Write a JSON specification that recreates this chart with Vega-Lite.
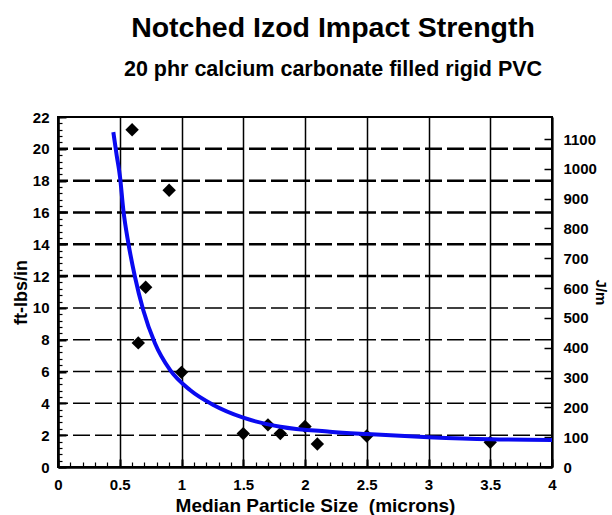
{
  "$schema": "https://vega.github.io/schema/vega-lite/v6.json",
  "width": 494,
  "height": 350,
  "autosize": "none",
  "padding": {"left": 58, "top": 117, "right": 60, "bottom": 48},
  "background": "white",
  "title": {
    "text": "Notched Izod Impact Strength",
    "subtitle": "20 phr calcium carbonate filled rigid PVC",
    "anchor": "middle",
    "frame": "group",
    "dx": 28,
    "offset": 30,
    "font": "Liberation Sans",
    "fontSize": 28.5,
    "fontWeight": "bold",
    "color": "black",
    "subtitleFont": "Liberation Sans",
    "subtitleFontSize": 21.5,
    "subtitleFontWeight": "bold",
    "subtitleColor": "black",
    "subtitlePadding": 16
  },
  "config": {"view": {"stroke": "black", "strokeWidth": 2}, "font": "Liberation Sans"},
  "datasets": {
    "points": [
      {"size": 0.6, "ft": 21.2},
      {"size": 0.9, "ft": 17.4},
      {"size": 0.71, "ft": 11.3},
      {"size": 0.65, "ft": 7.8},
      {"size": 1.0, "ft": 5.95},
      {"size": 1.5, "ft": 2.1},
      {"size": 1.7, "ft": 2.65},
      {"size": 1.8, "ft": 2.1},
      {"size": 2.0, "ft": 2.55},
      {"size": 2.1, "ft": 1.45},
      {"size": 2.5, "ft": 1.95},
      {"size": 3.5, "ft": 1.55}
    ],
    "curve": [
      {"size": 0.448, "ft": 21.05},
      {"size": 0.475, "ft": 19.6},
      {"size": 0.502, "ft": 18.25},
      {"size": 0.529, "ft": 16.15},
      {"size": 0.57, "ft": 14.06},
      {"size": 0.623, "ft": 11.96},
      {"size": 0.69, "ft": 9.87},
      {"size": 0.785, "ft": 7.78},
      {"size": 0.907, "ft": 6.1},
      {"size": 1.069, "ft": 4.84},
      {"size": 1.258, "ft": 3.9},
      {"size": 1.5, "ft": 3.1},
      {"size": 1.8, "ft": 2.53},
      {"size": 2.2, "ft": 2.22},
      {"size": 2.5, "ft": 2.07},
      {"size": 3.0, "ft": 1.87},
      {"size": 3.5, "ft": 1.74},
      {"size": 4.0, "ft": 1.7}
    ],
    "hgrid1": [{"ft": 2}, {"ft": 4}, {"ft": 6}, {"ft": 8}, {"ft": 10}],
    "hgrid2": [{"ft": 12}, {"ft": 14}, {"ft": 16}, {"ft": 18}, {"ft": 20}],
    "jm": [{"jm": 0}, {"jm": 1174}]
  },
  "layer": [
    {
      "data": {"name": "hgrid1"},
      "mark": {"type": "rule", "color": "black", "strokeWidth": 1.5, "strokeDash": [17, 5]},
      "encoding": {
        "y": {
          "field": "ft", "type": "quantitative",
          "scale": {"domain": [0, 22], "nice": false, "zero": false},
          "axis": {
            "orient": "left",
            "values": [0,0.4,0.8,1.2,1.6,2,2.4,2.8,3.2,3.6,4,4.4,4.8,5.2,5.6,6,6.4,6.8,7.2,7.6,8,8.4,8.8,9.2,9.6,10,10.4,10.8,11.2,11.6,12,12.4,12.8,13.2,13.6,14,14.4,14.8,15.2,15.6,16,16.4,16.8,17.2,17.6,18,18.4,18.8,19.2,19.6,20,20.4,20.8,21.2,21.6,22],
            "labels": false, "domain": false, "grid": false, "title": null,
            "ticks": true, "tickSize": -4, "tickWidth": 1.2, "tickColor": "black"
          }
        }
      }
    },
    {
      "data": {"name": "hgrid2"},
      "mark": {"type": "rule", "color": "black", "strokeWidth": 2.5, "strokeDash": [17, 5]},
      "encoding": {
        "y": {
          "field": "ft", "type": "quantitative",
          "scale": {"domain": [0, 22], "nice": false, "zero": false},
          "axis": null
        }
      }
    },
    {
      "data": {"name": "points"},
      "mark": {"type": "point", "shape": "diamond", "filled": true, "color": "black", "size": 180, "opacity": 1},
      "encoding": {
        "x": {
          "field": "size", "type": "quantitative",
          "scale": {"domain": [0, 4], "nice": false, "zero": false},
          "axis": {
            "orient": "bottom",
            "values": [0, 0.5, 1, 1.5, 2, 2.5, 3, 3.5, 4],
            "format": "~g",
            "labelFlush": false, "labelOverlap": false,
            "grid": true, "gridColor": "black", "gridWidth": 1.5, "gridOpacity": 1,
            "domainColor": "black", "domainWidth": 2.5,
            "tickColor": "black", "tickSize": -8, "tickWidth": 2,
            "labelFont": "Liberation Sans", "labelFontSize": 15, "labelFontWeight": "bold", "labelColor": "black",
            "labelPadding": 18,
            "title": "Median Particle Size\u00a0\u00a0(microns)",
            "titleFont": "Liberation Sans", "titleFontSize": 19, "titleFontWeight": "bold", "titleColor": "black",
            "titlePadding": 4,
            "titleX": 257,
            "titleAlign": "center"
          }
        },
        "y": {
          "field": "ft", "type": "quantitative",
          "scale": {"domain": [0, 22], "nice": false, "zero": false},
          "axis": {
            "orient": "left",
            "values": [0, 2, 4, 6, 8, 10, 12, 14, 16, 18, 20, 22],
            "grid": false,
            "labelOverlap": false, "labelFlush": false,
            "domainColor": "black", "domainWidth": 2.5,
            "tickColor": "black", "tickSize": -8, "tickWidth": 2,
            "labelFont": "Liberation Sans", "labelFontSize": 15, "labelFontWeight": "bold", "labelColor": "black",
            "labelPadding": 17,
            "title": "ft-lbs/in",
            "titleFont": "Liberation Sans", "titleFontSize": 18, "titleFontWeight": "bold", "titleColor": "black",
            "titlePadding": 2
          }
        }
      }
    },
    {
      "data": {"name": "curve"},
      "mark": {"type": "line", "color": "#0a0af0", "strokeWidth": 4, "interpolate": "monotone"},
      "encoding": {
        "x": {
          "field": "size", "type": "quantitative",
          "scale": {"domain": [0, 4], "nice": false, "zero": false},
          "axis": {
            "orient": "bottom",
            "values": [0,0.1,0.2,0.3,0.4,0.5,0.6,0.7,0.8,0.9,1,1.1,1.2,1.3,1.4,1.5,1.6,1.7,1.8,1.9,2,2.1,2.2,2.3,2.4,2.5,2.6,2.7,2.8,2.9,3,3.1,3.2,3.3,3.4,3.5,3.6,3.7,3.8,3.9,4],
            "labels": false, "domain": false, "grid": false, "title": null,
            "ticks": true, "tickSize": -5, "tickWidth": 1.2, "tickColor": "black"
          }
        },
        "y": {
          "field": "ft", "type": "quantitative",
          "scale": {"domain": [0, 22], "nice": false, "zero": false},
          "axis": null
        }
      }
    },
    {
      "data": {"name": "jm"},
      "mark": {"type": "point", "opacity": 0},
      "encoding": {
        "y": {
          "field": "jm", "type": "quantitative",
          "scale": {"domain": [0, 1174], "nice": false, "zero": false},
          "axis": {
            "orient": "right",
            "values": [0, 100, 200, 300, 400, 500, 600, 700, 800, 900, 1000, 1100],
            "format": "d",
            "grid": false,
            "labelOverlap": false, "labelFlush": false,
            "domainColor": "black", "domainWidth": 2,
            "tickColor": "black", "tickSize": -8, "tickWidth": 1.5,
            "labelFont": "Liberation Sans", "labelFontSize": 15, "labelFontWeight": "bold", "labelColor": "black",
            "labelPadding": 19,
            "title": "J/m",
            "titleFont": "Liberation Sans", "titleFontSize": 15, "titleFontWeight": "bold", "titleColor": "black",
            "titlePadding": -4
          }
        }
      }
    }
  ],
  "resolve": {"scale": {"y": "independent"}, "axis": {"x": "independent", "y": "independent"}}
}
